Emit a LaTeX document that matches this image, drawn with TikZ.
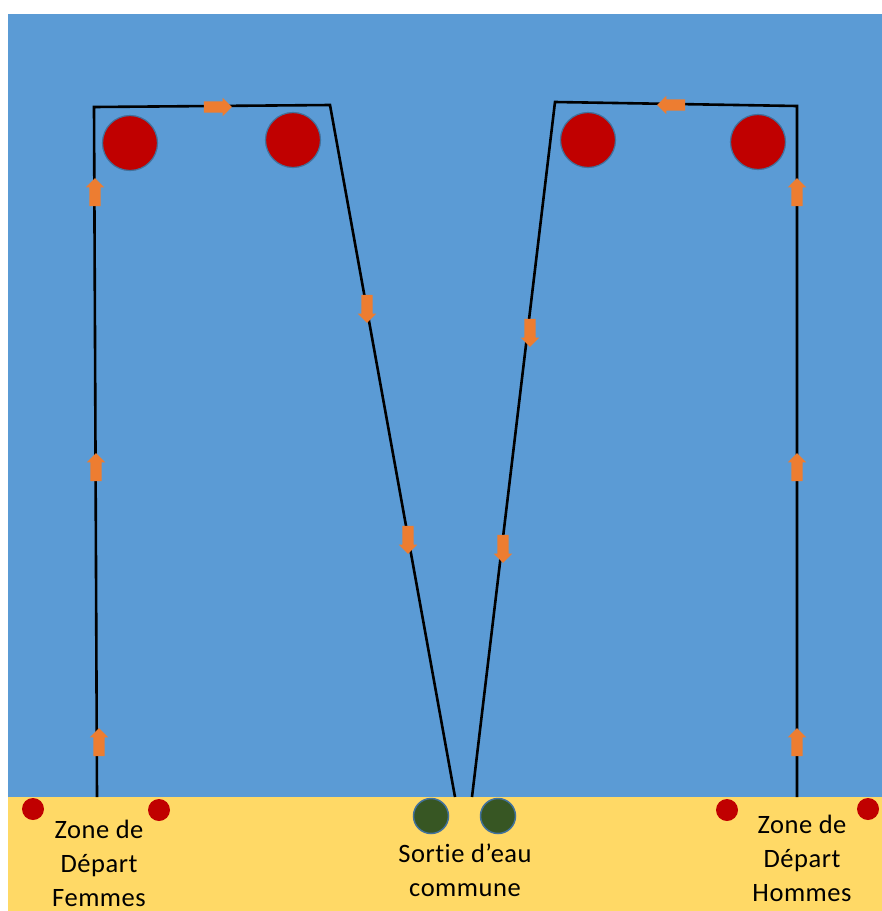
\documentclass[tikz,border=0pt]{standalone}
\usepackage{fontspec}
\setmainfont[Ligatures=NoCommon, LetterSpace=2]{Carlito}
\usetikzlibrary{shapes.arrows}
\definecolor{pool}{HTML}{5B9BD5}
\definecolor{sand}{HTML}{FFD966}
\definecolor{buoy}{HTML}{C00000}
\definecolor{rim}{HTML}{41719C}
\definecolor{exitgreen}{HTML}{375623}
\definecolor{flow}{HTML}{ED7D31}
\tikzset{
  course/.style={black, line width=2.6pt, line join=miter},
  bigbuoy/.style={circle, fill=buoy, draw=rim, line width=1.2pt, minimum size=55pt, inner sep=0pt},
  smallbuoy/.style={circle, fill=buoy, minimum size=22pt, inner sep=0pt},
  exitbuoy/.style={circle, fill=exitgreen, draw=rim, line width=1.5pt, minimum size=35pt, inner sep=0pt},
  flowarrow/.style={single arrow, fill=flow, draw=none, minimum height=28pt, inner sep=5.5pt, single arrow head extend=3.5pt, single arrow tip angle=90},
  label/.style={align=center, font=\fontsize{26.5}{34}\selectfont, inner sep=0pt, text=black}
}
\begin{document}
\begin{tikzpicture}[x=1pt, y=-1pt]
\useasboundingbox (0,0) rectangle (882,911);
\fill[white] (0,0) rectangle (882,911);
\fill[pool] (8,14) rectangle (882,797);
\fill[sand] (8,797) rectangle (882,911);

% course corners
\coordinate (lb) at (97,797);
\coordinate (lt) at (94,107);
\coordinate (ltr) at (330,105);
\coordinate (mb1) at (455,797);
\coordinate (mb2) at (472,797);
\coordinate (rtl) at (555,102);
\coordinate (rt) at (797,106);
\coordinate (rb) at (797,797);

\draw[course] (lb) -- (lt) -- (ltr) -- (mb1);
\draw[course] (rb) -- (rt) -- (rtl) -- (mb2);

% big buoys
\node[bigbuoy] (b1) at (130,143) {};
\node[bigbuoy] (b2) at (293,140) {};
\node[bigbuoy] (b3) at (588,140) {};
\node[bigbuoy] (b4) at (758,142) {};

% small start buoys
\node[smallbuoy] (s1) at (33,809) {};
\node[smallbuoy] (s2) at (159,810) {};
\node[smallbuoy] (s3) at (727,810) {};
\node[smallbuoy] (s4) at (868,809) {};

% exit buoys
\node[exitbuoy] (e1) at (431,816) {};
\node[exitbuoy] (e2) at (498,816) {};

% flow arrows
\node[flowarrow, rotate=90] (a1) at (99,745) {};
\node[flowarrow, rotate=90] (a2) at (96,470) {};
\node[flowarrow, rotate=90] (a3) at (95,195) {};
\node[flowarrow] (a4) at (215,107) {};
\node[flowarrow, rotate=-90] (a5) at (367,306) {};
\node[flowarrow, rotate=-90] (a6) at (408,537) {};
\node[flowarrow, rotate=90] (a7) at (797,745) {};
\node[flowarrow, rotate=90] (a8) at (797,470) {};
\node[flowarrow, rotate=90] (a9) at (797,195) {};
\node[flowarrow, rotate=180] (a10) at (674,105) {};
\node[flowarrow, rotate=-90] (a11) at (530,330) {};
\node[flowarrow, rotate=-90] (a12) at (503,546) {};

% labels
\node[label] (tf) at (99,863) {Zone de\\Départ\\Femmes};
\node[label] (tm) at (465,870) {Sortie d’eau\\commune};
\node[label] (th) at (802,858) {Zone de\\Départ\\Hommes};
\end{tikzpicture}
\end{document}
